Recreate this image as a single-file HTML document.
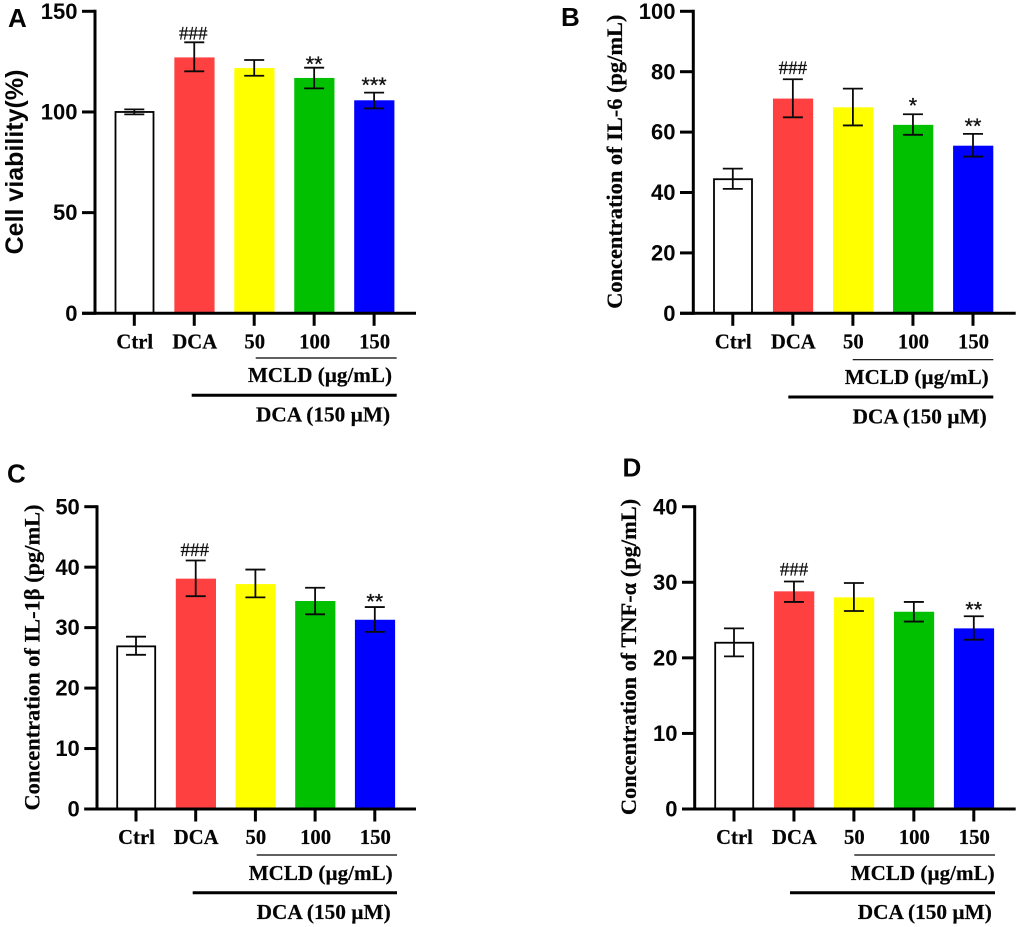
<!DOCTYPE html>
<html lang="en">
<head>
<meta charset="utf-8">
<title>Four-panel bar chart</title>
<style>
html,body{margin:0;padding:0;background:#fff;width:1020px;height:927px;overflow:hidden}
svg{display:block}
.sans{font-family:"Liberation Sans",sans-serif;font-weight:700;fill:#050505}
.serif{font-family:"Liberation Serif",serif;font-weight:700;fill:#050505;stroke:#050505;stroke-width:0.2}
.hash{font-family:"Liberation Serif",serif;font-weight:400;fill:#111;stroke:#111;stroke-width:0.25}
.star{font-family:"Liberation Sans",sans-serif;font-weight:400;fill:#111;stroke:#111;stroke-width:0.3}
</style>
</head>
<body>
<svg id="figure" xmlns="http://www.w3.org/2000/svg" width="1020" height="927" viewBox="0 0 1020 927"></svg>
<script>
var categories = ['Ctrl', 'DCA', '50', '100', '150'];
var barColors = ['#ffffff', '#ff4040', '#ffff00', '#00c000', '#0000ff'];

var viabilityValues = [100, 127.1, 121.8, 116.9, 105.8];
var viabilityErrHigh = [101.3, 134.6, 125.8, 122, 109.6];
var viabilityErrLow = [98.8, 120.2, 118, 111.7, 101.8];
var viabilitySig = ['', '###', '', '**', '***'];
var viabilityTicks = [0, 50, 100, 150];

var il6Values = [44.4, 71.1, 68.2, 62.4, 55.5];
var il6ErrHigh = [47.9, 77.5, 74.4, 65.9, 59.4];
var il6ErrLow = [41.2, 64.9, 62.2, 59.1, 51.9];
var il6Sig = ['', '###', '', '*', '**'];
var il6Ticks = [0, 20, 40, 60, 80, 100];

var il1bValues = [26.9, 38.1, 37.2, 34.4, 31.3];
var il1bErrHigh = [28.5, 41.1, 39.6, 36.6, 33.4];
var il1bErrLow = [25.5, 35.2, 35, 32.2, 29.3];
var il1bSig = ['', '###', '', '', '**'];
var il1bTicks = [0, 10, 20, 30, 40, 50];

var tnfValues = [22, 28.8, 28, 26.1, 23.9];
var tnfErrHigh = [23.9, 30.1, 29.9, 27.4, 25.5];
var tnfErrLow = [20.2, 27.4, 26.2, 24.8, 22.4];
var tnfSig = ['', '###', '', '', '**'];
var tnfTicks = [0, 10, 20, 30, 40];

var panels = [
  {id:'a', letter:'A', letterX:8, letterY:27, title:'Cell viability(%)', titleClass:'sans', titleSize:25, titleX:23, titleY:162,
   values:viabilityValues, high:viabilityErrHigh, low:viabilityErrLow, sig:viabilitySig, ticks:viabilityTicks, yMax:150,
   axisX:95, tickLeft:82, axisRight:416, yTop:11.3, yZero:313.3, x0:134.3, dx:59.95, labelBase:348.3, sigDx:-1,
   sigNudge:{1:1.5, 3:4, 4:0},
   thinL:255.7, thickL:191.7, lineR:396.7, thinY:358, thickY:395.3, mcldX:320, mcldY:382, dcaX:323, dcaY:421.7},
  {id:'b', letter:'B', letterX:561, letterY:26, title:'Concentration of IL-6 (pg/mL)', titleClass:'serif', titleSize:22.4, titleX:622, titleY:161.7,
   values:il6Values, high:il6ErrHigh, low:il6ErrLow, sig:il6Sig, ticks:il6Ticks, yMax:100,
   axisX:693.3, tickLeft:680, axisRight:1015.7, yTop:11.3, yZero:313.3, x0:732.8, dx:60.05, labelBase:348.3, sigDx:0,
   sigNudge:{1:-1, 3:-1, 4:0},
   thinL:852.7, thickL:788.3, lineR:993.3, thinY:359.7, thickY:397, mcldX:916.7, mcldY:384, dcaX:919.7, dcaY:423.3},
  {id:'c', letter:'C', letterX:7, letterY:482.7, title:'Concentration of IL-1\u03B2 (pg/mL)', titleClass:'serif', titleSize:22.4, titleX:39.3, titleY:657.5,
   values:il1bValues, high:il1bErrHigh, low:il1bErrLow, sig:il1bSig, ticks:il1bTicks, yMax:50,
   axisX:97, tickLeft:84.3, axisRight:416, yTop:506.7, yZero:809, x0:136, dx:59.7, labelBase:844, sigDx:-1,
   sigNudge:{1:0, 4:2},
   thinL:256.7, thickL:192.7, lineR:397, thinY:855, thickY:892.7, mcldX:320.7, mcldY:880, dcaX:323.7, dcaY:919},
  {id:'d', letter:'D', letterX:622.5, letterY:476.7, title:'Concentration of TNF-\u03B1 (pg/mL)', titleClass:'serif', titleSize:22.4, titleX:636, titleY:657,
   values:tnfValues, high:tnfErrHigh, low:tnfErrLow, sig:tnfSig, ticks:tnfTicks, yMax:40,
   axisX:694.7, tickLeft:682, axisRight:1015.7, yTop:506.7, yZero:809, x0:734, dx:59.95, labelBase:844, sigDx:0,
   sigNudge:{1:-1.7, 4:1},
   thinL:854.3, thickL:790, lineR:995, thinY:855, thickY:892.7, mcldX:922.7, mcldY:880, dcaX:924.8, dcaY:919}
];

var NS = 'http://www.w3.org/2000/svg';
var root = document.getElementById('figure');

function make(parent, tag, attrs, text) {
  var el = document.createElementNS(NS, tag);
  for (var k in attrs) { el.setAttribute(k, attrs[k]); }
  if (text !== undefined) { el.textContent = text; }
  parent.appendChild(el);
  return el;
}
function seg(parent, x1, y1, x2, y2, w, color) {
  return make(parent, 'line', {x1:x1, y1:y1, x2:x2, y2:y2, stroke:color || '#000', 'stroke-width':w});
}

panels.forEach(function (p) {
  var yScale = function (v) { return p.yZero - (v / p.yMax) * (p.yZero - p.yTop); };
  var xScale = function (i) { return p.x0 + i * p.dx; };
  var barW = 40.2;

  var g = make(root, 'g', {});
  
  

  var letter = make(g, 'text', {x:p.letterX, y:p.letterY, 'class':'sans', 'font-size':26}, p.letter);
  
  

  var title = make(g, 'text', {
    transform:'translate(' + p.titleX + ',' + p.titleY + ') rotate(-90)',
    'text-anchor':'middle', 'class':p.titleClass, 'font-size':p.titleSize
  }, p.title);
  
  

  p.values.forEach(function (v, i) {
    var cx = xScale(i);
    var top = yScale(v);
    var isCtrl = i === 0;
    var w = isCtrl ? 38 : barW;
    var bar = make(g, 'rect', {
      x:cx + 0.2 - w / 2, y:top, width:w, height:p.yZero - top,
      fill:barColors[i]
    });
    if (isCtrl) {
      bar.setAttribute('stroke', '#000');
      bar.setAttribute('stroke-width', '1.8');
    }
    
    

    var err = make(g, 'g', {});
    
    
    var hi = yScale(p.high[i]);
    var lo = yScale(p.low[i]);
    seg(err, cx, hi, cx, lo, 1.8, '#0a0a0a');
    seg(err, cx - 10, hi, cx + 10, hi, 1.8, '#0a0a0a');
    seg(err, cx - 10, lo, cx + 10, lo, 1.8, '#0a0a0a');

    if (p.sig[i]) {
      var isHash = p.sig[i].charAt(0) === '#';
      var nudge = p.sigNudge[i] || 0;
      var mark = make(g, 'text', {
        x:cx + (isHash ? p.sigDx : 0), y:hi + nudge - (isHash ? 4.5 : 0.7), 'text-anchor':'middle',
        'class':isHash ? 'hash' : 'star', 'font-size':isHash ? 19 : 21.5
      }, p.sig[i]);
      
      
    }

    var tick = seg(g, cx, p.yZero, cx, p.yZero + 12.5, 3);
    
    

    var lab = make(g, 'text', {x:cx + 0.5, y:p.labelBase, 'text-anchor':'middle', 'class':'serif', 'font-size':20.7}, categories[i]);
    
    
  });

  p.ticks.forEach(function (t) {
    var ty = yScale(t);
    var tick = seg(g, p.tickLeft, ty, p.axisX, ty, 3);
    
    
    var lab = make(g, 'text', {x:p.tickLeft - 4.5, y:ty + 7.6, 'text-anchor':'end', 'class':'sans', 'font-size':22}, String(t));
    
    
  });

  var yAxis = seg(g, p.axisX, p.yTop - 1.5, p.axisX, p.yZero + 1.5, 3);
  
  

  var xAxis = seg(g, p.tickLeft, p.yZero, p.axisRight, p.yZero, 3);
  
  

  var thin = seg(g, p.thinL, p.thinY, p.lineR, p.thinY, 1.2);
  
  

  var mcld = make(g, 'text', {x:p.mcldX, y:p.mcldY, 'text-anchor':'middle', 'class':'serif', 'font-size':21.1}, 'MCLD (\u00B5g/mL)');
  
  

  var thick = seg(g, p.thickL, p.thickY, p.lineR, p.thickY, 3);
  
  

  var dca = make(g, 'text', {x:p.dcaX, y:p.dcaY, 'text-anchor':'middle', 'class':'serif', 'font-size':21.3}, 'DCA (150 \u00B5M)');
  
  
});
</script>
</body>
</html>
